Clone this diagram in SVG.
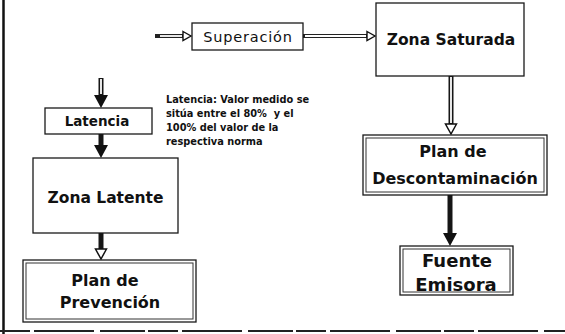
<svg xmlns="http://www.w3.org/2000/svg" width="565" height="334" viewBox="0 0 565 334">
<style>
.box{fill:#fff;stroke:#1a1a1a;stroke-width:1.3}
.inner{fill:none;stroke:#333;stroke-width:1}
.lbl{font-family:"DejaVu Sans","Liberation Sans",sans-serif;font-weight:bold;fill:#111;text-anchor:middle}
.reg{font-family:"DejaVu Sans","Liberation Sans",sans-serif;fill:#111;text-anchor:middle}
.note{font-family:"DejaVu Sans","Liberation Sans",sans-serif;font-weight:bold;font-size:9.8px;fill:#111}
.shaft{stroke:#161616;stroke-width:5;fill:none}
.core{stroke:#fff;stroke-width:1.8;fill:none}
.thin{stroke:#222;stroke-width:4;fill:none}
</style>
<defs>
<marker id="solidHead" markerUnits="userSpaceOnUse" markerWidth="16" markerHeight="14" viewBox="0 0 16 14" refX="0" refY="7" orient="auto">
<path d="M0,0 L13,7 L0,14 Z" fill="#111"/>
</marker>
<marker id="hollowHead" markerUnits="userSpaceOnUse" markerWidth="14" markerHeight="14" viewBox="-1.5 -1.5 14 14" refX="0" refY="5.5" orient="auto">
<path d="M0,0 L10,5.5 L0,11 Z" fill="#fff" stroke="#111" stroke-width="1.5"/>
</marker>
<marker id="hollowSmall" markerUnits="userSpaceOnUse" markerWidth="12" markerHeight="12" viewBox="-1.5 -1.5 12 12" refX="0" refY="4.5" orient="auto">
<path d="M0,0 L8,4.5 L0,9 Z" fill="#fff" stroke="#111" stroke-width="1.4"/>
</marker>
</defs>
<rect width="565" height="334" fill="#fff"/>
<!-- frame -->
<line x1="3.5" y1="0" x2="3.5" y2="334" stroke="#111" stroke-width="2.5"/>
<line x1="0" y1="331" x2="565" y2="331" stroke="#222" stroke-width="2" stroke-dasharray="30,4,60,6,45,3"/>

<g id="connectors">
<!-- entry to Superacion -->
<line class="thin" x1="155" y1="36" x2="183" y2="36" marker-end="url(#hollowSmall)"/>
<line class="core" x1="160" y1="36" x2="182" y2="36" stroke-width="1.2"/>
<!-- Superacion to Zona Saturada -->
<line class="thin" x1="303" y1="36" x2="367" y2="36" marker-end="url(#hollowSmall)"/>
<line class="core" x1="305" y1="36" x2="366" y2="36" stroke-width="1.2"/>
<!-- Zona Saturada to Plan de Descontaminacion -->
<line class="shaft" x1="451" y1="76" x2="451" y2="124" marker-end="url(#hollowHead)"/>
<line class="core" x1="451" y1="77" x2="451" y2="123"/>
<!-- Plan de Descontaminacion to Fuente Emisora -->
<line class="shaft" x1="450" y1="195" x2="450" y2="233" marker-end="url(#solidHead)"/>
<!-- top-left into Latencia -->
<line class="shaft" x1="101" y1="78" x2="101" y2="95" marker-end="url(#solidHead)"/>
<line class="core" x1="101" y1="79" x2="101" y2="94"/>
<!-- Latencia to Zona Latente -->
<line class="shaft" x1="101" y1="134" x2="101" y2="145" marker-end="url(#solidHead)"/>
<!-- Zona Latente to Plan de Prevencion -->
<line class="shaft" x1="101" y1="233" x2="101" y2="249" marker-end="url(#hollowHead)"/>
</g>

<g id="superacion">
<rect class="box" x="192" y="23" width="111" height="27"/>
<text class="reg" x="248" y="41.5" font-size="14.5" letter-spacing="0.8">Superación</text>
</g>

<g id="zona-saturada">
<rect class="box" x="376" y="3" width="148" height="73"/>
<text class="lbl" x="451" y="44.5" font-size="15.5">Zona Saturada</text>
</g>

<g id="plan-descontaminacion">
<rect class="box" x="363" y="135" width="184" height="60" stroke-width="2"/>
<rect class="inner" x="366" y="138" width="178" height="54"/>
<text class="lbl" x="453" y="157" font-size="16">Plan de</text>
<text class="lbl" x="455" y="184" font-size="16">Descontaminación</text>
</g>

<g id="fuente-emisora">
<rect class="box" x="400" y="246" width="113" height="49" stroke-width="1.6"/>
<rect class="inner" x="403" y="249" width="107" height="43"/>
<text class="lbl" x="457" y="267" font-size="18">Fuente</text>
<text class="lbl" x="456" y="291" font-size="18">Emisora</text>
</g>

<g id="latencia">
<rect class="box" x="45" y="108" width="107" height="26"/>
<text class="lbl" x="97" y="126" font-size="13.5">Latencia</text>
</g>

<g id="nota-latencia">
<text class="note" x="166" y="103">Latencia: Valor medido se</text>
<text class="note" x="166" y="117" xml:space="preserve">sitúa entre el 80%  y el</text>
<text class="note" x="166" y="131">100% del valor de la</text>
<text class="note" x="166" y="145">respectiva norma</text>
</g>

<g id="zona-latente">
<rect class="box" x="33" y="158" width="145" height="75"/>
<text class="lbl" x="105.5" y="203" font-size="15.5">Zona Latente</text>
</g>

<g id="plan-prevencion">
<rect class="box" x="23" y="260" width="173" height="62" stroke-width="1.6"/>
<rect class="inner" x="26" y="263" width="167" height="56"/>
<text class="lbl" x="105" y="286" font-size="16">Plan de</text>
<text class="lbl" x="110" y="308" font-size="16">Prevención</text>
</g>
</svg>
